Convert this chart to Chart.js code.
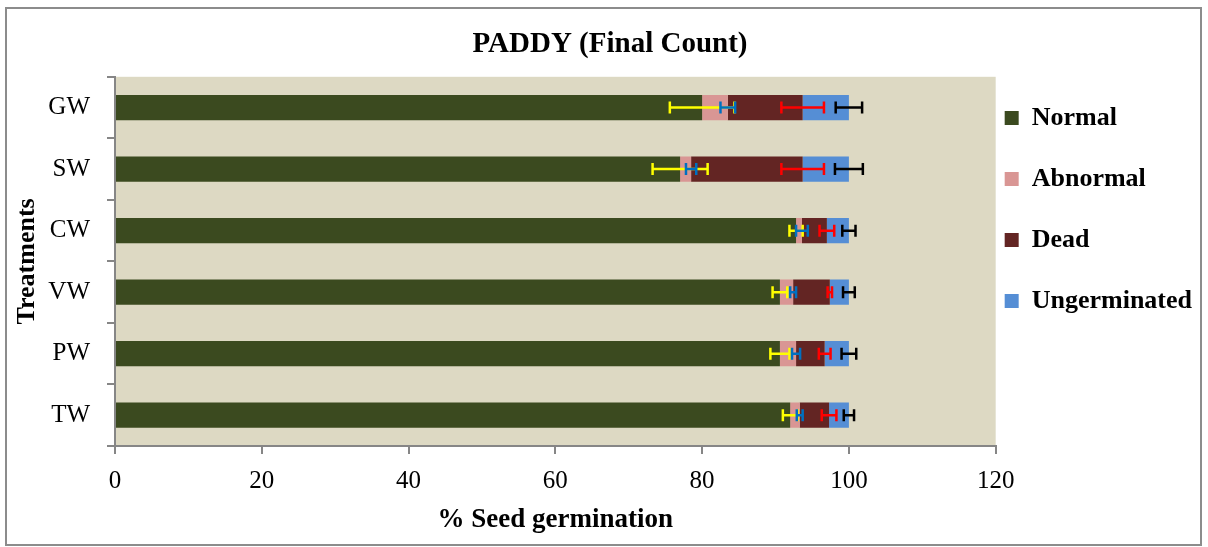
<!DOCTYPE html>
<html>
<head>
<meta charset="utf-8">
<title>PADDY (Final Count)</title>
<script src="https://cdn.jsdelivr.net/npm/chart.js@4.4.1/dist/chart.umd.min.js"></script>
<style>
  html, body { margin: 0; padding: 0; background: #fff; }
  #wrap { position: relative; width: 1208px; height: 547px; }
  #frame {
    position: absolute; left: 5px; top: 7px; width: 1197px; height: 539px;
    border: 2px solid #8c8c8c; box-sizing: border-box; pointer-events: none;
  }
</style>
</head>
<body>
<div id="wrap">
  <canvas id="paddyChart" width="1208" height="547"></canvas>
  <div id="frame"></div>
</div>
<script>
// Treatments, top to bottom
const treatments = ['GW', 'SW', 'CW', 'VW', 'PW', 'TW'];

// % of seeds in each class (stacked to 100)
const normal = [80, 77, 92.8, 90.6, 90.6, 92];
const abnormal = [3.5, 1.5, 0.8, 1.8, 2.2, 1.3];
const dead = [10.2, 15.2, 3.4, 5, 3.9, 4];
const ungerminated = [6.3, 6.3, 3, 2.6, 3.3, 2.7];

// error bar half-widths (drawn at the end of each segment)
const normalErr = [4.4, 3.75, 0.9, 1.0, 1.3, 1.0];
const abnormalErr = [1.0, 0.7, 0.8, 0.4, 0.55, 0.4];
const deadErr = [2.9, 2.9, 1.0, 0.3, 0.8, 1.0];
const ungerminatedErr = [1.8, 1.9, 0.9, 0.8, 1.0, 0.7];

// x axis
const xMin = 0, xMax = 120, xStep = 20;

const FONT = '"Liberation Serif", "Times New Roman", serif';
const AXIS_GREY = '#868686';

const errors = [normalErr, abnormalErr, deadErr, ungerminatedErr];
const errColors = ['#FFFF00', '#0070C0', '#FF0000', '#000000'];

// beige plot area
const plotBg = {
  id: 'plotBg',
  beforeDraw(chart) {
    const { ctx, chartArea: a } = chart;
    ctx.save();
    ctx.fillStyle = '#DDD9C3';
    ctx.fillRect(a.left, a.top, a.right - a.left, a.bottom - a.top);
    ctx.restore();
  }
};

// horizontal error bars at the end of each stacked segment
const errorBars = {
  id: 'errorBars',
  afterDatasetsDraw(chart) {
    const { ctx } = chart;
    const xs = chart.scales.x;
    const sets = chart.data.datasets;
    sets.forEach((ds, i) => {
      const meta = chart.getDatasetMeta(i);
      meta.data.forEach((bar, j) => {
        let end = 0;
        for (let k = 0; k <= i; k++) end += sets[k].data[j];
        const err = errors[i][j];
        const x1 = xs.getPixelForValue(end - err);
        const x2 = xs.getPixelForValue(end + err);
        const y = bar.y;
        ctx.save();
        ctx.strokeStyle = errColors[i];
        ctx.lineWidth = 2.5;
        ctx.beginPath();
        ctx.moveTo(x1, y); ctx.lineTo(x2, y);
        ctx.moveTo(x1, y - 6); ctx.lineTo(x1, y + 6);
        ctx.moveTo(x2, y - 6); ctx.lineTo(x2, y + 6);
        ctx.stroke();
        ctx.restore();
      });
    });
  }
};

function makeSet(label, data, color) {
  return {
    label: label,
    data: data,
    backgroundColor: color,
    borderWidth: 0,
    categoryPercentage: 1,
    barPercentage: 0.41
  };
}

new Chart(document.getElementById('paddyChart'), {
  type: 'bar',
  data: {
    labels: treatments,
    datasets: [
      makeSet('Normal', normal, '#3B4A1F'),
      makeSet('Abnormal', abnormal, '#D99694'),
      makeSet('Dead', dead, '#632523'),
      makeSet('Ungerminated', ungerminated, '#558ED5')
    ]
  },
  options: {
    responsive: false,
    animation: false,
    indexAxis: 'y',
    layout: { padding: { left: 18, right: 6, top: 0, bottom: 0 } },
    plugins: {
      title: {
        display: true,
        text: 'PADDY (Final Count)',
        color: '#000',
        font: { family: FONT, size: 29, weight: 'bold' },
        padding: { top: 27, bottom: 15 }
      },
      legend: {
        position: 'right',
        align: 'start',
        fullSize: false,
        title: { display: true, text: ' ', font: { size: 1 }, padding: { top: 18, bottom: 0 } },
        labels: {
          color: '#000',
          boxWidth: 14,
          boxHeight: 14,
          padding: 9,
          font: { family: FONT, size: 26, weight: 'bold', lineHeight: '52px' },
          // one-line arrays so the item height follows the font lineHeight
          generateLabels(chart) {
            return Chart.defaults.plugins.legend.labels.generateLabels(chart)
              .map(item => Object.assign(item, { text: [item.text], lineWidth: 0 }));
          }
        }
      },
      tooltip: { enabled: false }
    },
    scales: {
      x: {
        stacked: true,
        min: xMin,
        max: xMax,
        ticks: { stepSize: xStep, color: '#000', font: { family: FONT, size: 25 }, padding: 12 },
        grid: { drawOnChartArea: false, tickLength: 8, color: AXIS_GREY, lineWidth: 2 },
        border: { color: AXIS_GREY, width: 2 },
        title: {
          display: true,
          text: '% Seed germination',
          color: '#000',
          font: { family: FONT, size: 27, weight: 'bold' },
          padding: { top: 8, bottom: 11 }
        },
        afterFit(scale) { scale.height = 101; }
      },
      y: {
        stacked: true,
        ticks: { color: '#000', font: { family: FONT, size: 25 }, padding: 17 },
        grid: { drawOnChartArea: false, offset: true, tickLength: 8, color: AXIS_GREY, lineWidth: 2 },
        border: { color: AXIS_GREY, width: 2 },
        title: {
          display: true,
          text: 'Treatments',
          color: '#000',
          font: { family: FONT, size: 26, weight: 'bold' },
          padding: { top: -6, bottom: 0 }
        },
        afterFit(scale) { scale.width = 97; }
      }
    }
  },
  plugins: [plotBg, errorBars]
});
</script>
</body>
</html>
